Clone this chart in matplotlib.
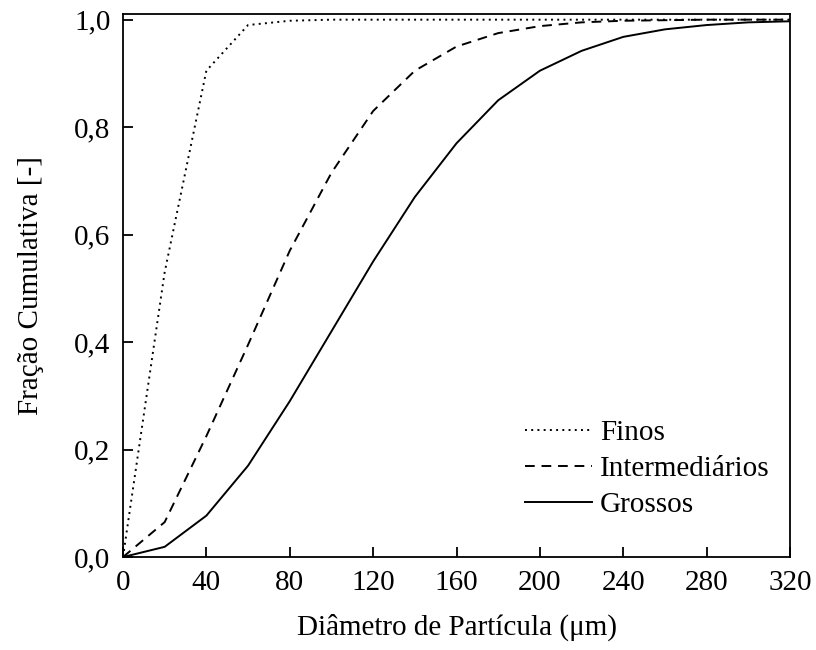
import numpy as np
import matplotlib
matplotlib.use('Agg')
import matplotlib.pyplot as plt
from matplotlib.ticker import FuncFormatter

plt.rcParams['font.family'] = ['Liberation Serif', 'DejaVu Serif']
plt.rcParams['mathtext.fontset'] = 'stix'

# diametro (um) e fracao cumulativa de cada amostra
diam_finos = [0, 20, 40, 60, 80, 100, 120, 140, 160, 180, 200, 220, 240, 260, 280, 300, 320]
finos = [0.0, 0.53, 0.905, 0.99, 0.998, 1.0, 1.0, 1.0, 1.0, 1.0, 1.0, 1.0, 1.0, 1.0, 1.0, 1.0, 1.0]

diam = [0, 20, 40, 60, 80, 100, 120, 140, 160, 180, 200, 220, 240, 260, 280, 300, 320]
intermediarios = [0.0, 0.065, 0.225, 0.395, 0.57, 0.715, 0.83, 0.905, 0.95, 0.975,
                  0.988, 0.995, 0.998, 0.999, 1.0, 1.0, 1.0]
grossos = [0.0, 0.019, 0.077, 0.17, 0.29, 0.42, 0.55, 0.67, 0.77, 0.85,
           0.905, 0.942, 0.968, 0.982, 0.99, 0.995, 0.997]

xticks = [0, 40, 80, 120, 160, 200, 240, 280, 320]
yticks = [0.0, 0.2, 0.4, 0.6, 0.8, 1.0]

fig = plt.figure(figsize=(8.16, 6.5), dpi=100)
ax = fig.add_axes([0.1507, 0.143, 0.8175, 0.835])

ax.plot(diam_finos, finos, color='black', lw=1.4, linestyle=(0, (1, 2.2)), label='Finos')
ax.plot(diam, intermediarios, color='black', lw=1.4, linestyle=(0, (5, 3.5)), label='Intermediários')
ax.plot(diam, grossos, color='black', lw=1.4, linestyle='-', label='Grossos')

ax.set_xlim(0, 320)
ax.set_ylim(0, 1.01)
ax.set_xticks(xticks)
ax.set_yticks(yticks)
ax.yaxis.set_major_formatter(FuncFormatter(lambda v, p: '{:.1f}'.format(v).replace('.', ',')))
ax.tick_params(direction='in', length=7, width=1.3, labelsize=21)
ax.tick_params(axis='x', pad=9)
ax.tick_params(axis='y', pad=9)

for s in ax.spines.values():
    s.set_linewidth(1.3)

ax.set_xlabel('Diâmetro de Partícula (μm)', fontsize=21, labelpad=13)
ax.set_ylabel('Fração Cumulativa [-]', fontsize=21, labelpad=22)

ax.legend(loc='lower left', bbox_to_anchor=(0.603, 0.072), frameon=False, fontsize=21,
          borderpad=0, borderaxespad=0, handlelength=2.3, handletextpad=0.27,
          labelspacing=0.33)

fig.savefig('out.png', dpi=100)
